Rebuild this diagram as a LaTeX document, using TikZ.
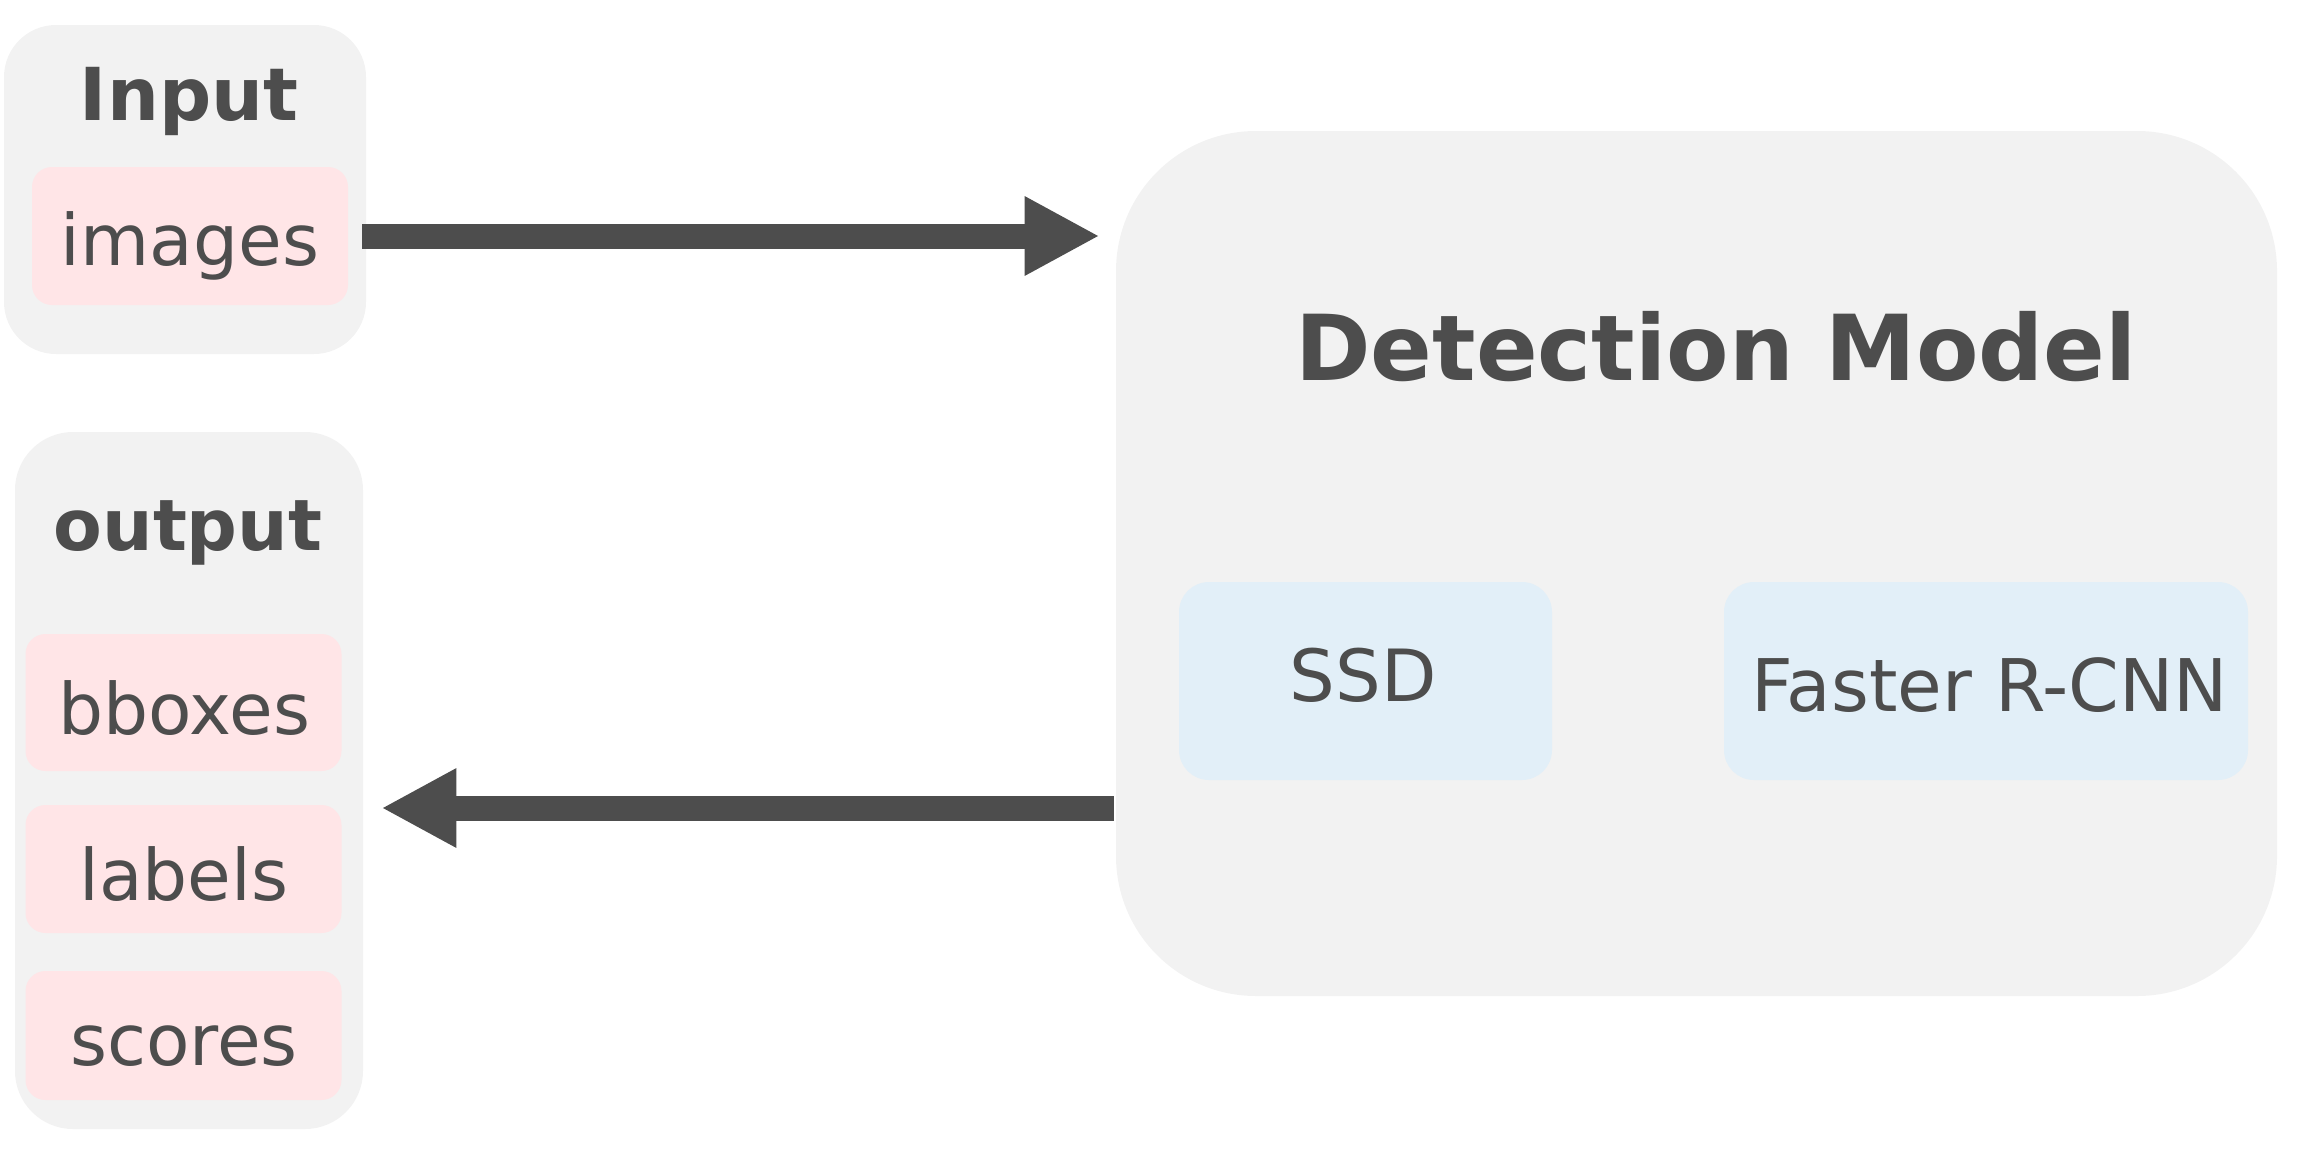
\documentclass[tikz,border=0pt]{standalone}
\usepackage{fontspec}
\setmainfont{DejaVu Sans}
\usetikzlibrary{arrows.meta}
\definecolor{txt}{HTML}{4D4D4D}
\definecolor{panel}{HTML}{F2F2F2}
\definecolor{pinkbox}{HTML}{FFE5E7}
\definecolor{bluebox}{HTML}{E2EFF8}
\tikzset{
  panelbox/.style={fill=panel, draw=none, rectangle, inner sep=0pt},
  itembox/.style={fill=pinkbox, draw=none, rectangle, inner sep=0pt, rounded corners=10pt, minimum width=158pt},
  modelbox/.style={fill=bluebox, draw=none, rectangle, inner sep=0pt, rounded corners=15pt, minimum height=99pt},
  titletxt/.style={anchor=base, inner sep=0pt, text=txt, font=\bfseries\fontsize{35.5pt}{42pt}\selectfont},
  itemtxt/.style={anchor=base, inner sep=0pt, text=txt, font=\fontsize{35.5pt}{42pt}\selectfont},
  bigarrow/.style={draw=txt, line width=12.5pt, -{Triangle[length=37.5pt,width=37pt]}}
}
\begin{document}
\begin{tikzpicture}[x=0.5pt, y=-0.5pt]
\useasboundingbox (0,0) rectangle (2311,1151);
% panels
\node[panelbox, rounded corners=26pt, minimum width=181pt, minimum height=164.5pt] (inp) at (185,189.5) {};
\node[panelbox, rounded corners=29pt, minimum width=174pt, minimum height=348.5pt] (out) at (189,780.5) {};
\node[panelbox, rounded corners=70pt, minimum width=580.5pt, minimum height=432.5pt] (det) at (1696.5,563.5) {};
% item boxes
\node[itembox, minimum height=69pt] (img) at (190,236) {};
\node[itembox, minimum height=68.5pt] (bb) at (183.5,702.5) {};
\node[itembox, minimum height=64pt] (lab) at (183.5,869) {};
\node[itembox, minimum height=64.5pt] (sco) at (183.5,1035.5) {};
\node[modelbox, minimum width=186.5pt] (ssd) at (1365.5,681) {};
\node[modelbox, minimum width=262pt] (frc) at (1986,681) {};
% texts
\node[titletxt, font=\bfseries\fontsize{36.5pt}{43pt}\selectfont] (tin) at (189,120) {Input};
\node[titletxt] (tout) at (188,550) {output};
\node[titletxt, font=\bfseries\fontsize{45.5pt}{54pt}\selectfont] (tdet) at (1716,380) {Detection Model};
\node[itemtxt] (timg) at (190,265) {images};
\node[itemtxt] (tbb) at (184,734) {bboxes};
\node[itemtxt] (tlab) at (184,900) {labels};
\node[itemtxt] (tsco) at (184,1065) {scores};
\node[itemtxt, font=\fontsize{36pt}{43pt}\selectfont] (tssd) at (1363,701) {SSD};
\node[itemtxt, font=\fontsize{36.3pt}{43pt}\selectfont] (tfrc) at (1990,711) {Faster R-CNN};
% arrows
\coordinate (y2) at (0,808);
\draw[bigarrow] ([xshift=-2pt]img.east -| inp.east) -- ([xshift=-8pt]img.east -| det.west);
\draw[bigarrow] ([xshift=-1pt]y2 -| det.west) -- ([xshift=9pt]y2 -| out.east);
\end{tikzpicture}
\end{document}
